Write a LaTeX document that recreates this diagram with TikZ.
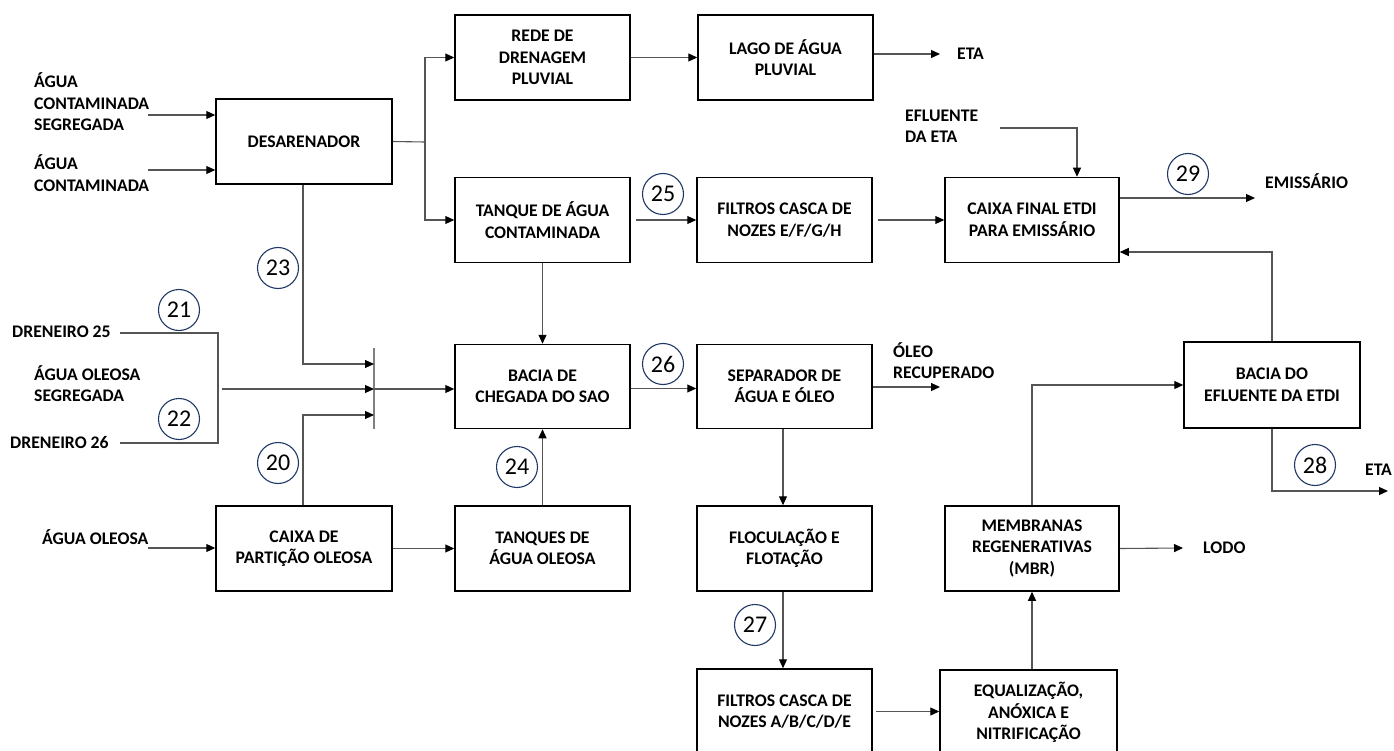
\documentclass[tikz,border=0pt]{standalone}
\usepackage{fontspec}
\setmainfont{Carlito}
\usetikzlibrary{arrows.meta,calc}
\definecolor{navy}{HTML}{1F3864}
\definecolor{wire}{HTML}{555555}

\begin{document}
\begin{tikzpicture}[x=1pt,y=-1pt,
  box/.style={draw=black,line width=1.5pt,minimum width=175pt,minimum height=85pt,
    align=center,font=\fontsize{17.7}{21.5}\selectfont\bfseries,inner sep=0pt},
  lbl/.style={align=left,font=\fontsize{17.7}{21.5}\selectfont\bfseries,inner sep=0pt},
  num/.style={draw=navy,line width=1.1pt,circle,minimum size=41pt,inner sep=0pt,
    font=\fontsize{24}{24}\selectfont},
  wireline/.style={draw=wire,line width=1.1pt},
  flow/.style={wireline,-{Triangle[length=9pt,width=8pt,color=black]}}]

\useasboundingbox (0,0) rectangle (1394,751);
\clip (0,0) rectangle (1394,751);

% process boxes
\node[box,minimum width=176pt] (des) at (304,141.5) {DESARENADOR};
\node[box] (rede) at (542.5,57.5) {REDE DE\\DRENAGEM\\PLUVIAL};
\node[box] (lago) at (785.5,57.5) {LAGO DE ÁGUA\\PLUVIAL};
\node[box] (tanq) at (542.5,220) {TANQUE DE ÁGUA\\CONTAMINADA};
\node[box] (filt1) at (784.5,220) {FILTROS CASCA DE\\NOZES E/F/G/H};
\node[box,minimum width=174pt] (caixa) at (1032,220) {CAIXA FINAL ETDI\\PARA EMISSÁRIO};
\node[box,minimum height=84pt] (sao) at (542.5,386.5) {BACIA DE\\CHEGADA DO SAO};
\node[box,minimum height=84pt] (sep) at (784.5,386.5) {SEPARADOR DE\\ÁGUA E ÓLEO};
\node[box,minimum width=176pt,minimum height=86pt] (baciaef) at (1272,385) {BACIA DO\\EFLUENTE DA ETDI};
\node[box,minimum width=176pt] (part) at (304,548.5) {CAIXA DE\\PARTIÇÃO OLEOSA};
\node[box] (tanqol) at (542.5,548.5) {TANQUES DE\\ÁGUA OLEOSA};
\node[box] (floc) at (784.5,548.5) {FLOCULAÇÃO E\\FLOTAÇÃO};
\node[box,minimum width=174pt] (mbr) at (1032,548.5) {MEMBRANAS\\REGENERATIVAS\\(MBR)};
\node[box] (filt2) at (784.5,711.5) {FILTROS CASCA DE\\NOZES A/B/C/D/E};
\node[box,minimum width=177pt] (equal) at (1028.5,712.5) {EQUALIZAÇÃO,\\ANÓXICA E\\NITRIFICAÇÃO};

% free-standing labels
\node[lbl,anchor=west] (inseg) at (34,102) {ÁGUA\\CONTAMINADA\\SEGREGADA};
\node[lbl,anchor=west] (incont) at (34,173) {ÁGUA\\CONTAMINADA};
\node[lbl,anchor=west] (oleoseg) at (34,383.5) {ÁGUA OLEOSA\\SEGREGADA};
\node[lbl,anchor=west] (d25) at (12,332) {DRENEIRO 25};
\node[lbl,anchor=west] (d26) at (10,443) {DRENEIRO 26};
\node[lbl,anchor=west] (oleosa) at (42,537) {ÁGUA OLEOSA};
\node[lbl,anchor=west] (eta1) at (957,54) {ETA};
\node[lbl,anchor=west] (efeta) at (905,126.5) {EFLUENTE\\DA ETA};
\node[lbl,anchor=west] (emis) at (1265,181) {EMISSÁRIO};
\node[lbl,anchor=west] (recup) at (893,360.5) {ÓLEO\\RECUPERADO};
\node[lbl,anchor=west] (eta2) at (1365,470) {ETA};
\node[lbl,anchor=west] (lodo) at (1203,548) {LODO};

% stream numbers
\node[num] (n20) at (278,463) {20};
\node[num] (n21) at (179,310) {21};
\node[num] (n22) at (179,419) {22};
\node[num] (n23) at (278,268) {23};
\node[num] (n24) at (517,467) {24};
\node[num] (n25) at (663,194) {25};
\node[num] (n26) at (663,364) {26};
\node[num] (n27) at (755,625) {27};
\node[num] (n28) at (1315,465) {28};
\node[num] (n29) at (1188,174) {29};

% connector end points
\coordinate (i1) at (148,115);
\coordinate (i2) at (148,170);
\coordinate (i3) at (148,548);
\coordinate (sp) at (425,142);
\coordinate (etaend) at (940,54);
\coordinate (efstart) at (1000,128);
\coordinate (emend) at (1255,198);
\coordinate (eta2end) at (1388,491);
\coordinate (oleoend) at (940,387);
\coordinate (lodoend) at (1183,548);
\coordinate (c25) at (120,333);
\coordinate (c26) at (120,443);
\coordinate (vj) at (218,389);
\coordinate (bartop) at (374,348);
\coordinate (barbot) at (374,429);
\coordinate (b1) at (374,364);
\coordinate (b2) at (374,389);
\coordinate (b3) at (374,415);
\coordinate (fb) at (1119,252);

% inflows to the grit chamber
\draw[flow] (i1) -- (i1 -| des.west);
\draw[flow] (i2) -- (i2 -| des.west);

% grit chamber split
\draw[wireline] (des.east) -- (sp);
\draw[flow] (sp) |- (rede.west);
\draw[flow] (sp) |- (tanq.west);

% upper line
\draw[flow] (rede.east) -- (lago.west);
\draw[flow] (lago.east |- etaend) -- (etaend);
\draw[flow] ([xshift=5pt]tanq.east) -- (filt1.west);
\draw[flow] ([xshift=5pt]filt1.east) -- (caixa.west);
\draw[flow] (efstart) -| ([xshift=45pt]caixa.north);
\draw[flow] (emend -| caixa.east) -- (emend);
\draw[flow] (baciaef.north) |- (fb -| caixa.east);
\draw[flow] (baciaef.south) |- (eta2end);

% collector bar in front of the SAO basin
\draw[draw=gray,line width=1.2pt] (bartop) -- (barbot);
\draw[flow] ([xshift=-1pt]des.south) |- (b1);
\draw[wireline] (c25) -| (vj) |- (c26);
\draw[flow] ([xshift=4pt]vj) -- (b2);
\draw[flow] ([xshift=-1pt]part.north) |- (b3);
\draw[flow] (b2) -- (b2 -| sao.west);
\draw[flow] (tanq.south) -- (sao.north);

% oily water line
\draw[flow] (i3) -- (i3 -| part.west);
\draw[flow] (part.east) -- (tanqol.west);
\draw[flow] (tanqol.north) -- (sao.south);

% treatment sequence
\draw[flow] ([yshift=-2pt]sao.east) -- ([yshift=-2pt]sep.west);
\draw[flow] (sep.east |- oleoend) -- (oleoend);
\draw[flow] ([xshift=-1.5pt]sep.south) -- ([xshift=-1.5pt]floc.north);
\draw[flow] ([xshift=-1.5pt]floc.south) -- ([xshift=-1.5pt]filt2.north);
\draw[flow] ([xshift=3pt]filt2.east) -- (filt2.east -| equal.west);
\draw[flow] (mbr.south |- equal.north) -- (mbr.south);
\draw[flow] (mbr.north) |- (baciaef.west);
\draw[flow] (mbr.east) -- (lodoend);
\end{tikzpicture}
\end{document}
